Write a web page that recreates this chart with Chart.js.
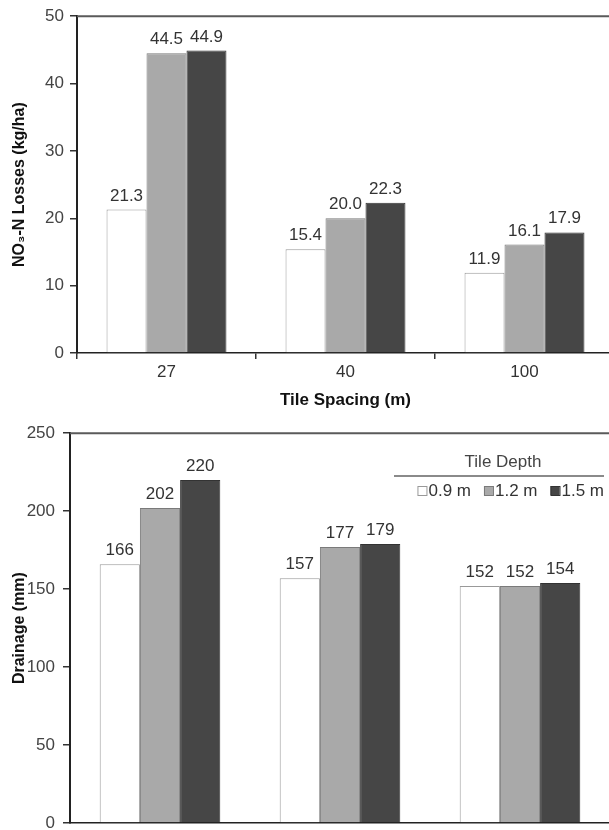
<!DOCTYPE html>
<html>
<head>
<meta charset="utf-8">
<script src="https://cdn.jsdelivr.net/npm/chart.js@4.4.0/dist/chart.umd.min.js"></script>
<style>
  html, body { margin: 0; padding: 0; background: #fff; overflow: hidden; height: 830px; }
  #wrap { width: 620px; }
  .box { position: relative; width: 620px; }
</style>
</head>
<body>
<div id="wrap">
  <div class="box" style="height:415px"><canvas id="losses-canvas"></canvas></div>
  <div class="box" style="height:430px"><canvas id="drainage-canvas"></canvas></div>
</div>
<script>
// Данные
const spacings = ['27', '40', '100'];
const depths = ['0.9 m', '1.2 m', '1.5 m'];
const lossDepth09 = [21.3, 15.4, 11.9];
const lossDepth12 = [44.5, 20.0, 16.1];
const lossDepth15 = [44.9, 22.3, 17.9];
const drainDepth09 = [166, 157, 152];
const drainDepth12 = [202, 177, 152];
const drainDepth15 = [220, 179, 154];
const lossTicks = [0, 10, 20, 30, 40, 50];
const drainTicks = [0, 50, 100, 150, 200, 250];

const FONT = '"Liberation Sans", Arial, sans-serif';
const fills = ['#ffffff', '#a9a9a9', '#464646'];
const borders = ['#999999', '#7a7a7a', '#333333'];

const makeDatasets = (series) => series.map((vals, i) => ({
  label: depths[i],
  data: vals,
  backgroundColor: fills[i],
  borderColor: borders[i],
  borderWidth: 1,
  categoryPercentage: 0.67,
  barPercentage: 1.0
}));

// Верхняя линия рамки графика
const frameTop = {
  id: 'frameTop',
  afterDraw(chart) {
    const { ctx, chartArea: a } = chart;
    ctx.save();
    ctx.strokeStyle = '#5a5a5a';
    ctx.lineWidth = 2;
    ctx.beginPath();
    ctx.moveTo(a.left, a.top);
    ctx.lineTo(a.right, a.top);
    ctx.stroke();
    ctx.restore();
  }
};

// Подписи значений над столбцами
const valueLabels = {
  id: 'valueLabels',
  afterDatasetsDraw(chart, args, opts) {
    const ctx = chart.ctx;
    ctx.save();
    ctx.font = '17px ' + FONT;
    ctx.fillStyle = '#333';
    ctx.textAlign = 'center';
    ctx.textBaseline = 'alphabetic';
    chart.data.datasets.forEach((ds, i) => {
      chart.getDatasetMeta(i).data.forEach((bar, j) => {
        ctx.fillText(ds.data[j].toFixed(opts.decimals || 0), bar.x, bar.y - 9);
      });
    });
    ctx.restore();
  }
};

// Легенда "Tile Depth" внутри нижнего графика (выровнена по правому краю)
const depthLegend = {
  id: 'depthLegend',
  afterDraw(chart) {
    const ctx = chart.ctx;
    const right = 604, box = 9, gap = 2, space = 13;
    ctx.save();
    ctx.font = '17px ' + FONT;
    ctx.fillStyle = '#444';
    ctx.textAlign = 'center';
    ctx.textBaseline = 'middle';
    ctx.fillText('Tile Depth', 503, 47);
    ctx.strokeStyle = '#8a8a8a';
    ctx.lineWidth = 2;
    ctx.beginPath();
    ctx.moveTo(394, 61);
    ctx.lineTo(right, 61);
    ctx.stroke();
    ctx.textAlign = 'left';
    const items = chart.data.datasets;
    const total = items.reduce((s, ds) => s + box + gap + ctx.measureText(ds.label).width, 0) + space * (items.length - 1);
    let x = right - total;
    items.forEach((ds) => {
      ctx.fillStyle = ds.backgroundColor;
      ctx.strokeStyle = ds.borderColor;
      ctx.lineWidth = 1;
      ctx.fillRect(x, 71, box, box);
      ctx.strokeRect(x + 0.5, 71.5, box, box);
      ctx.fillStyle = '#333';
      ctx.fillText(ds.label, x + box + gap, 76);
      x += box + gap + ctx.measureText(ds.label).width + space;
    });
    ctx.restore();
  }
};

const makeOptions = (cfg) => ({
  responsive: true,
  maintainAspectRatio: false,
  animation: false,
  layout: { padding: { top: cfg.padTop, right: cfg.padRight, left: 0, bottom: 0 } },
  plugins: {
    legend: { display: false },
    tooltip: { enabled: false },
    valueLabels: { decimals: cfg.decimals }
  },
  scales: {
    x: {
      offset: true,
      afterFit: (s) => { s.height = cfg.xHeight; },
      grid: { offset: true, drawOnChartArea: false, drawTicks: cfg.xTicks, tickLength: 6, color: '#333', lineWidth: 1.5 },
      border: { color: '#222', width: 1.5 },
      ticks: { display: cfg.xTicks, color: '#333', font: { family: FONT, size: 17 }, padding: 3 },
      title: {
        display: cfg.xTicks,
        text: 'Tile Spacing (m)',
        color: '#111',
        font: { family: FONT, size: 17, weight: 'bold' },
        padding: { top: 0, bottom: 4 }
      }
    },
    y: {
      min: 0,
      max: cfg.ticks[cfg.ticks.length - 1],
      afterFit: (s) => { s.width = cfg.yWidth; },
      afterBuildTicks: (s) => { s.ticks = cfg.ticks.map(v => ({ value: v })); },
      grid: { drawOnChartArea: false, tickLength: 7, color: '#333', lineWidth: 1.5 },
      border: { color: '#222', width: 2 },
      ticks: { color: '#444', font: { family: FONT, size: 17 }, padding: cfg.tickPad },
      title: {
        display: true,
        text: cfg.yTitle,
        color: '#111',
        font: { family: FONT, size: 16, weight: 'bold' },
        padding: { top: 10, bottom: 0 }
      }
    }
  }
});

new Chart(document.getElementById('losses-canvas').getContext('2d'), {
  type: 'bar',
  data: { labels: spacings, datasets: makeDatasets([lossDepth09, lossDepth12, lossDepth15]) },
  options: makeOptions({
    padTop: 5, padRight: 6, decimals: 1, xHeight: 62, xTicks: true, tickPad: 6,
    yWidth: 77, ticks: lossTicks, yTitle: 'NO\u2083-N Losses (kg/ha)'
  }),
  plugins: [frameTop, valueLabels]
});

new Chart(document.getElementById('drainage-canvas').getContext('2d'), {
  type: 'bar',
  data: { labels: spacings, datasets: makeDatasets([drainDepth09, drainDepth12, drainDepth15]) },
  options: makeOptions({
    padTop: 13, padRight: 10, decimals: 0, xHeight: 22, xTicks: false, tickPad: 8,
    yWidth: 70, ticks: drainTicks, yTitle: 'Drainage (mm)'
  }),
  plugins: [frameTop, valueLabels, depthLegend]
});
</script>
</body>
</html>
